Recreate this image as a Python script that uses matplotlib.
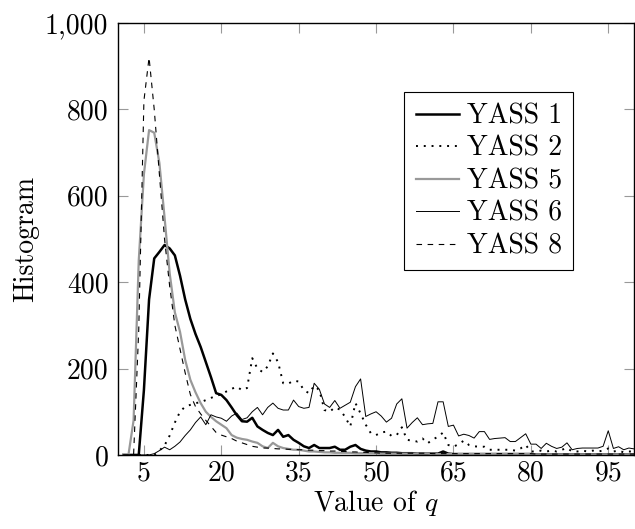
import matplotlib
matplotlib.use("Agg")
import matplotlib.pyplot as plt
import numpy as np
from matplotlib.ticker import FuncFormatter

plt.rcParams['font.family'] = 'serif'
plt.rcParams['font.serif'] = ['cmr10']
plt.rcParams['mathtext.fontset'] = 'cm'
plt.rcParams['axes.unicode_minus'] = False
plt.rcParams['font.size'] = 20

# value of q (one bin per integer)
q = np.arange(1, 101)

yass1 = [0, 0, 0, 0, 150, 360, 455, 470, 486, 478,
         462, 415, 360, 315, 280, 250, 215, 180, 143, 139,
         127, 110, 92, 78, 77, 86, 66, 58, 51, 46,
         58, 42, 46, 35, 28, 20, 16, 23, 16, 16,
         16, 19, 12, 12, 19, 23, 14, 10, 8, 8,
         6, 6, 5, 5, 4, 4, 4, 3, 3, 3,
         3, 3, 8, 3, 2, 2, 2, 2, 2, 2,
         2, 2, 2, 2, 2, 2, 2, 2, 2, 2,
         1, 1, 1, 1, 1, 1, 1, 1, 1, 1,
         1, 1, 1, 1, 1, 1, 1, 1, 1, 1]

yass2 = [0, 0, 0, 0, 0, 0, 0, 10, 22, 45,
         75, 100, 112, 116, 120, 122, 127, 132, 137, 140,
         147, 153, 158, 150, 155, 224, 200, 192, 205, 235,
         215, 166, 165, 172, 170, 150, 143, 160, 150, 104,
         100, 110, 105, 88, 66, 120, 96, 70, 50, 46,
         52, 54, 44, 46, 64, 35, 33, 31, 38, 27,
         36, 42, 52, 23, 19, 25, 33, 23, 20, 19,
         19, 12, 12, 12, 12, 12, 10, 15, 23, 8,
         8, 10, 8, 10, 8, 12, 16, 8, 8, 10,
         8, 10, 8, 10, 15, 8, 10, 6, 8, 8]

yass5 = [0, 0, 80, 450, 650, 752, 746, 676, 550, 420,
         330, 285, 220, 174, 145, 120, 100, 88, 78, 70,
         62, 46, 40, 37, 35, 31, 28, 20, 16, 28,
         20, 16, 14, 12, 12, 10, 8, 8, 7, 6,
         6, 5, 5, 5, 5, 4, 4, 4, 4, 4,
         3, 3, 3, 3, 3, 3, 3, 3, 3, 3,
         2, 2, 2, 2, 2, 2, 2, 2, 2, 2,
         2, 2, 2, 2, 2, 2, 2, 2, 2, 2,
         1, 1, 1, 1, 1, 1, 1, 1, 1, 1,
         1, 1, 1, 1, 1, 1, 1, 1, 1, 1]

yass6 = [0, 0, 0, 0, 0, 0, 3, 10, 18, 12,
         20, 30, 45, 58, 75, 88, 70, 93, 88, 85,
         78, 90, 97, 82, 86, 100, 110, 93, 110, 120,
         108, 104, 104, 127, 112, 108, 110, 166, 152, 118,
         110, 126, 108, 115, 122, 158, 176, 89, 95, 100,
         90, 76, 85, 118, 130, 62, 75, 86, 70, 72,
         73, 123, 123, 66, 69, 44, 48, 45, 39, 54,
         54, 36, 38, 39, 40, 31, 31, 40, 49, 25,
         25, 15, 27, 20, 15, 18, 28, 12, 15, 16,
         16, 16, 16, 20, 56, 15, 19, 12, 16, 14]

yass8 = [0, 0, 0, 290, 820, 920, 800, 650, 500, 390,
         300, 245, 190, 140, 112, 95, 80, 66, 52, 46,
         42, 38, 32, 28, 24, 20, 18, 16, 16, 15,
         14, 14, 13, 13, 12, 12, 11, 11, 10, 10,
         9, 9, 8, 8, 7, 7, 6, 6, 5, 5,
         4, 4, 4, 4, 4, 4, 4, 4, 4, 4,
         3, 3, 3, 3, 3, 3, 3, 3, 3, 3,
         3, 3, 3, 3, 3, 3, 3, 3, 3, 3,
         2, 2, 2, 2, 2, 2, 2, 2, 2, 2,
         2, 2, 2, 2, 2, 2, 2, 2, 2, 2]

xticks = [5, 20, 35, 50, 65, 80, 95]
yticks = [0, 200, 400, 600, 800, 1000]

fig = plt.figure(figsize=(6.35, 5.29), dpi=100)
ax = fig.add_axes([0.186, 0.14, 0.8125, 0.8165])

ax.plot(q, yass1, color='black', lw=1.8, label='YASS 1')
ax.plot(q, yass2, color='black', lw=1.4, linestyle=(0, (1, 3)), label='YASS 2')
ax.plot(q, yass5, color='#999999', lw=1.6, label='YASS 5')
ax.plot(q, yass6, color='black', lw=0.7, label='YASS 6')
ax.plot(q, yass8, color='black', lw=0.8, linestyle=(0, (5, 5)), label='YASS 8')

ax.set_xlim(0, 100)
ax.set_ylim(0, 1000)
ax.set_xticks(xticks)
ax.set_yticks(yticks)
ax.yaxis.set_major_formatter(FuncFormatter(lambda v, p: '{:,}'.format(int(v))))
ax.tick_params(direction='in', length=7, width=0.8, color='#999999',
               top=True, right=True, pad=7)
ax.tick_params(axis='x', pad=4)
for s in ax.spines.values():
    s.set_linewidth(1.0)

ax.set_xlabel('Value of $q$', labelpad=1)
ax.set_ylabel('Histogram', labelpad=4)

leg = ax.legend(loc='upper left', bbox_to_anchor=(0.555, 0.84), borderaxespad=0,
                fancybox=False, framealpha=1, edgecolor='black',
                handlelength=1.55, handletextpad=0.3, labelspacing=0.22,
                borderpad=0.4)
leg.get_frame().set_linewidth(0.8)

fig.savefig('out.png', dpi=100)
